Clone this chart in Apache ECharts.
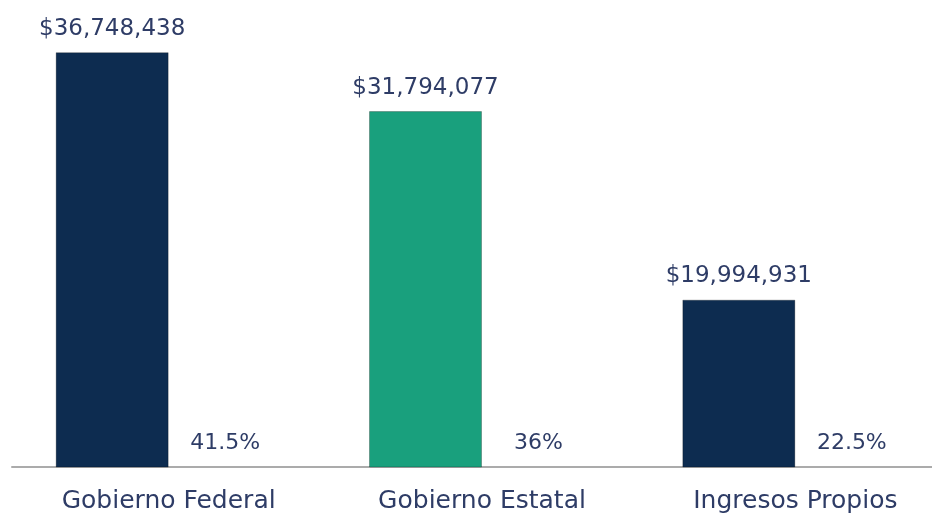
<!DOCTYPE html>
<html>
<head>
<meta charset="utf-8">
<script src="https://cdn.jsdelivr.net/npm/echarts@6/dist/echarts.min.js"></script>
<style>html,body{margin:0;padding:0;background:#fff;overflow:hidden;width:932px;height:517px}#c{width:952px;height:517px}</style>
</head>
<body>
<div id="c"></div>
<script>
var categories = ['Gobierno Federal', 'Gobierno Estatal', 'Ingresos Propios'];
var amounts = [36748438, 31794077, 19994931];
var percents = [41.5, 36, 22.5];
var percentLabels = ['41.5%', '36%', '22.5%'];
var barColors = ['#0d2c50', '#19a07d', '#0d2c50'];

function money(v) {
  return '$' + String(v).replace(/\B(?=(\d{3})+(?!\d))/g, ',');
}

var chart = echarts.init(document.getElementById('c'), null, {renderer: 'canvas'});
var textColor = '#2e3c66';
chart.setOption({
  animation: false,
  backgroundColor: '#ffffff',
  grid: {left: 12, right: 0, top: 17.7, bottom: 50, containLabel: false},
  xAxis: {
    type: 'category',
    data: categories,
    axisTick: {show: false},
    axisLine: {show: true, lineStyle: {color: '#ababab', width: 2}},
    axisLabel: {color: textColor, fontFamily: 'DejaVu Sans', fontSize: 25, margin: 22}
  },
  yAxis: [
    {type: 'log', logBase: 10, min: 13250000, max: 40000000, show: false},
    {type: 'value', min: 0, max: 100, show: false}
  ],
  series: [
    {
      type: 'bar',
      yAxisIndex: 0,
      barWidth: 113,
      barGap: '0%',
      clip: true,
      data: amounts.map(function (v, i) {
        return {value: v, itemStyle: {color: barColors[i], borderColor: 'rgba(0,0,0,0.25)', borderWidth: 1}};
      }),
      label: {
        show: true, position: 'top', distance: 12,
        color: textColor, fontFamily: 'DejaVu Sans', fontSize: 23,
        formatter: function (p) { return money(p.value); }
      }
    },
    {
      type: 'bar',
      yAxisIndex: 1,
      barWidth: 113,
      barGap: '0%',
      data: percents,
      itemStyle: {color: 'rgba(0,0,0,0)'},
      label: {
        show: true, position: 'insideBottom', distance: 13,
        color: textColor, fontFamily: 'DejaVu Sans', fontSize: 22,
        formatter: function (p) { return percentLabels[p.dataIndex]; }
      }
    }
  ]
});
</script>
</body>
</html>
